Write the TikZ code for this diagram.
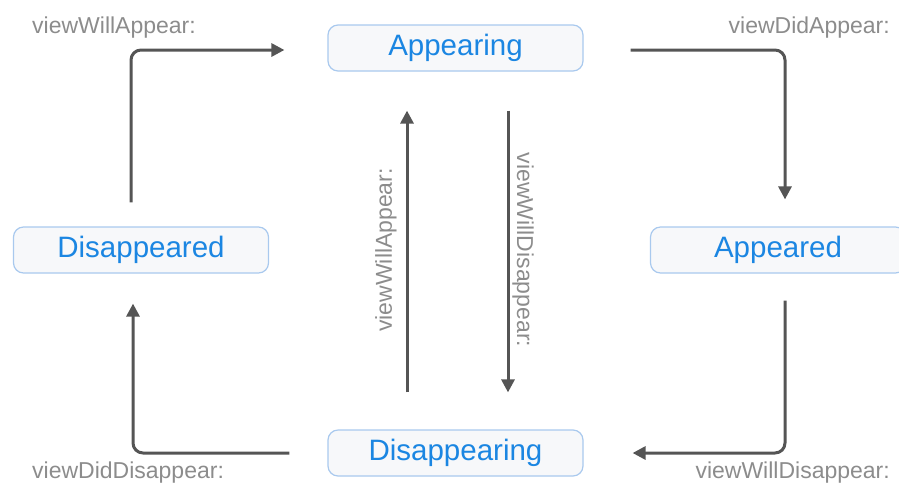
\documentclass[tikz,border=0pt]{standalone}
\usepackage{fontspec}
\setmainfont{Liberation Sans}
\usetikzlibrary{arrows.meta}
\definecolor{stateblue}{HTML}{1B86E2}
\definecolor{stateedge}{HTML}{A9C9EE}
\definecolor{statefill}{HTML}{F7F8FA}
\definecolor{flowgray}{HTML}{555555}
\definecolor{labelgray}{HTML}{8C8C8C}
\tikzset{
  state/.style={draw=stateedge, fill=statefill, line width=1.2pt, rounded corners=10pt,
    minimum width=255pt, minimum height=46pt, inner sep=0pt,
    text=stateblue, font=\fontsize{29.5}{32}\selectfont},
  flow/.style={draw=flowgray, line width=3pt, rounded corners=10pt,
    -{Triangle[length=13pt,width=13pt]}},
  call/.style={text=labelgray, font=\fontsize{23}{26}\selectfont, inner sep=0pt}
}
\begin{document}
\begin{tikzpicture}[x=1pt,y=1pt]
\useasboundingbox (0,0) rectangle (899,-483);
% lifecycle states
\node[state] (app)  at (455.5,-48)  {Appearing};
\node[state] (dis)  at (141,-250)   {Disappeared};
\node[state] (apd)  at (778,-250)   {Appeared};
\node[state] (ding) at (455.5,-453) {Disappearing};
% transitions around the cycle
\draw[flow, shorten <=24pt, shorten >=43pt] ([xshift=-10pt]dis.north) |- ([yshift=-2pt]app.west);
\draw[flow, shorten <=47pt, shorten >=27pt] ([yshift=-2pt]app.east) -| ([xshift=7pt]apd.north);
\draw[flow, shorten <=27pt, shorten >=49pt] ([xshift=7pt]apd.south) |- (ding.east);
\draw[flow, shorten <=38pt, shorten >=30pt] (ding.west) -| ([xshift=-8pt]dis.south);
% direct transitions between the middle states
\draw[flow, shorten <=37pt, shorten >=39pt] ([xshift=-48.5pt]ding.north) -- ([xshift=-48.5pt]app.south);
\draw[flow, shorten <=39pt, shorten >=37pt] ([xshift=52.5pt]app.south) -- ([xshift=52.5pt]ding.north);
% callback labels
\node[call, anchor=west] (l1) at (32,-28)  {viewWillAppear:};
\node[call, anchor=east] (l2) at (890,-28) {viewDidAppear:};
\node[call, anchor=base west] (l3) at (32,-478) {viewDidDisappear:};
\node[call, anchor=base east] (l4) at (890,-478) {viewWillDisappear:};
\node[call, rotate=90]  (l5) at (386,-250) {viewWillAppear:};
\node[call, rotate=-90] (l6) at (523,-250) {viewWillDisappear:};
\end{tikzpicture}
\end{document}
